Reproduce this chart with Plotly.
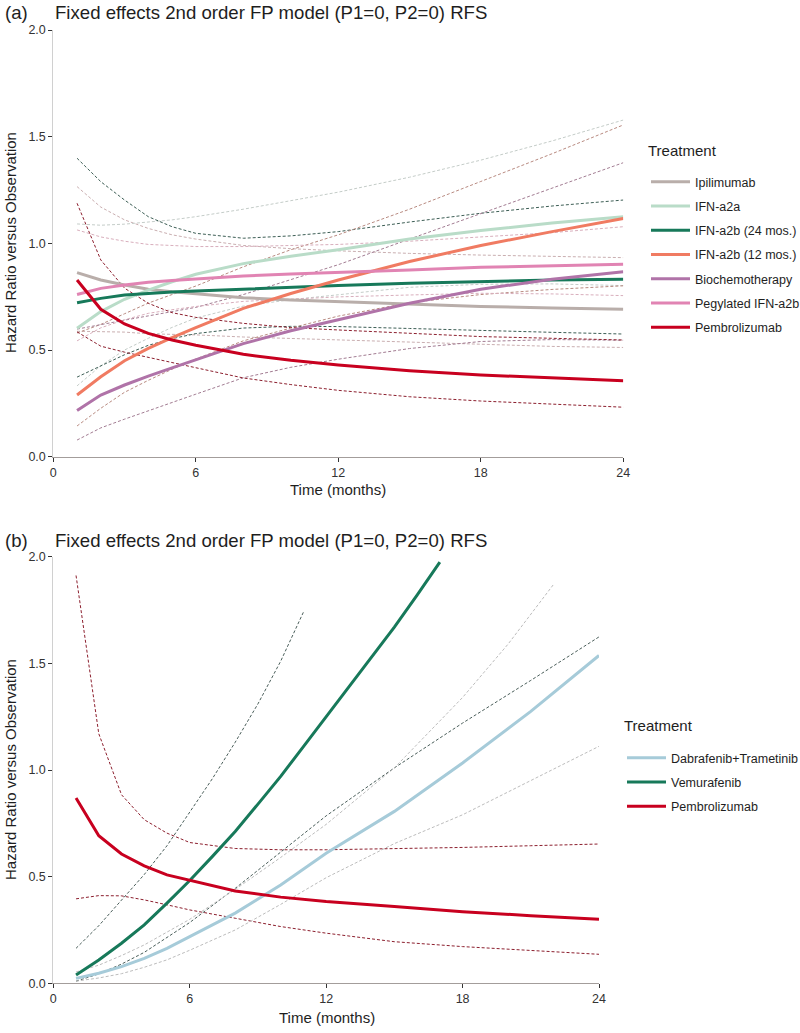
import plotly.graph_objects as go

# ---------------- Panel (a) data ----------------
TA = [1, 2, 3, 4, 5, 6, 8, 10, 12, 15, 18, 21, 24]

ipi_est = [0.863, 0.828, 0.805, 0.785, 0.773, 0.763, 0.745, 0.735, 0.727, 0.714, 0.704, 0.697, 0.691]
ipi_up = [1.266, 1.17, 1.11, 1.07, 1.04, 1.02, 0.99, 0.975, 0.965, 0.953, 0.945, 0.939, 0.933]
ipi_lo = [0.588, 0.586, 0.584, 0.576, 0.575, 0.571, 0.561, 0.554, 0.548, 0.535, 0.526, 0.517, 0.512]

a2a_est = [0.602, 0.68, 0.738, 0.781, 0.82, 0.855, 0.905, 0.94, 0.97, 1.02, 1.06, 1.095, 1.125]
a2a_up = [1.091, 1.085, 1.09, 1.10, 1.11, 1.125, 1.16, 1.20, 1.24, 1.31, 1.39, 1.48, 1.578]
a2a_lo = [0.332, 0.426, 0.50, 0.555, 0.606, 0.650, 0.706, 0.736, 0.759, 0.794, 0.808, 0.81, 0.802]

a2b24_est = [0.722, 0.742, 0.758, 0.766, 0.772, 0.777, 0.786, 0.795, 0.802, 0.813, 0.821, 0.828, 0.832]
a2b24_up = [1.399, 1.289, 1.203, 1.125, 1.078, 1.047, 1.024, 1.035, 1.055, 1.10, 1.141, 1.175, 1.203]
a2b24_lo = [0.373, 0.427, 0.478, 0.522, 0.553, 0.577, 0.603, 0.611, 0.61, 0.601, 0.591, 0.583, 0.575]

a2b12_est = [0.289, 0.375, 0.45, 0.508, 0.558, 0.605, 0.695, 0.765, 0.828, 0.915, 0.99, 1.055, 1.116]
a2b12_up = [0.58, 0.62, 0.67, 0.72, 0.76, 0.80, 0.89, 0.97, 1.04, 1.16, 1.29, 1.42, 1.555]
a2b12_lo = [0.144, 0.227, 0.302, 0.358, 0.41, 0.458, 0.543, 0.603, 0.659, 0.722, 0.76, 0.784, 0.801]

bio_est = [0.216, 0.289, 0.336, 0.378, 0.416, 0.453, 0.530, 0.59, 0.641, 0.719, 0.785, 0.832, 0.867]
bio_up = [0.598, 0.62, 0.64, 0.66, 0.68, 0.70, 0.76, 0.83, 0.90, 1.02, 1.14, 1.26, 1.378]
bio_lo = [0.078, 0.135, 0.176, 0.216, 0.254, 0.293, 0.37, 0.419, 0.457, 0.507, 0.54, 0.549, 0.546]

peg_est = [0.76, 0.789, 0.805, 0.818, 0.826, 0.833, 0.847, 0.856, 0.863, 0.875, 0.888, 0.895, 0.902]
peg_up = [1.063, 1.03, 1.01, 0.995, 0.99, 0.985, 0.985, 0.99, 0.995, 1.01, 1.03, 1.05, 1.078]
peg_lo = [0.543, 0.604, 0.642, 0.672, 0.689, 0.704, 0.728, 0.74, 0.749, 0.758, 0.766, 0.763, 0.755]

pem_a_est = [0.828, 0.691, 0.622, 0.578, 0.547, 0.522, 0.48, 0.452, 0.430, 0.403, 0.383, 0.370, 0.356]
pem_a_up = [1.188, 0.922, 0.79, 0.719, 0.675, 0.653, 0.625, 0.605, 0.594, 0.578, 0.563, 0.555, 0.547]
pem_a_lo = [0.585, 0.518, 0.49, 0.465, 0.443, 0.417, 0.369, 0.338, 0.311, 0.281, 0.261, 0.247, 0.232]

# ---------------- Panel (b) data ----------------
TB = [1, 2, 3, 4, 5, 6, 8, 10, 12, 15, 18, 21, 24]
pem_b_est = [0.869, 0.692, 0.606, 0.551, 0.508, 0.482, 0.433, 0.404, 0.383, 0.36, 0.336, 0.317, 0.30]
pem_b_up = [1.912, 1.17, 0.884, 0.767, 0.704, 0.66, 0.632, 0.626, 0.626, 0.63, 0.637, 0.645, 0.653]
pem_b_lo = [0.396, 0.411, 0.41, 0.391, 0.368, 0.344, 0.305, 0.266, 0.235, 0.195, 0.172, 0.153, 0.136]

TV = [1, 2, 3, 4, 5, 6, 7, 8, 9, 10, 11, 12, 13, 14, 15, 16, 17]
vem_est = [0.039, 0.109, 0.188, 0.274, 0.376, 0.482, 0.595, 0.712, 0.84, 0.97, 1.11, 1.25, 1.39, 1.53, 1.67, 1.82, 1.975]
TVU = [1, 2, 3, 4, 5, 6, 7, 8, 9, 10, 11]
vem_up = [0.164, 0.27, 0.39, 0.51, 0.645, 0.80, 0.96, 1.13, 1.31, 1.51, 1.74]
vem_lo = [0.01, 0.044, 0.09, 0.145, 0.215, 0.285, 0.445, 0.615, 0.785, 1.01, 1.22, 1.42, 1.624]

dab_est = [0.023, 0.047, 0.078, 0.117, 0.164, 0.219, 0.329, 0.461, 0.61, 0.806, 1.033, 1.275, 1.537]
TDU = [1, 2, 3, 4, 5, 6, 8, 10, 12, 15, 18, 20, 22]
dab_up = [0.053, 0.085, 0.13, 0.18, 0.24, 0.30, 0.44, 0.59, 0.745, 1.01, 1.34, 1.59, 1.87]
dab_lo = [0.01, 0.025, 0.045, 0.075, 0.11, 0.155, 0.25, 0.37, 0.495, 0.655, 0.79, 0.95, 1.111]

X_TICKS = [0, 6, 12, 18, 24]
Y_TICKS = [0.0, 0.5, 1.0, 1.5, 2.0]

names_a = ["Ipilimumab", "IFN-a2a", "IFN-a2b (24 mos.)", "IFN-a2b (12 mos.)",
           "Biochemotherapy", "Pegylated IFN-a2b", "Pembrolizumab"]
names_b = ["Dabrafenib+Trametinib", "Vemurafenib", "Pembrolizumab"]

FONT = "Arial, Liberation Sans, sans-serif"
TXT = "#1e1e1e"
W, H = 800, 1033

fig = go.Figure()


def line(x, y, color, width, dash, xa, ya, name=None, legend="legend", show=False, group=None):
    fig.add_trace(go.Scatter(
        x=x, y=y, mode="lines", name=name, showlegend=show,
        line=dict(color=color, width=width, dash=dash),
        xaxis=xa, yaxis=ya, legend=legend, legendgroup=group, hoverinfo="skip"))


DASH = "3px,2px"
# panel a: confidence limits (dashed)
ci_a = [
    (ipi_up, ipi_lo, "#c9aeb0"),
    (a2a_up, a2a_lo, "#c4ccc8"),
    (a2b24_up, a2b24_lo, "#3d5e55"),
    (a2b12_up, a2b12_lo, "#b88a80"),
    (bio_up, bio_lo, "#a27c92"),
    (peg_up, peg_lo, "#d8aebc"),
    (pem_a_up, pem_a_lo, "#8c1f2e"),
]
for up, lo, c in ci_a:
    line(TA, up, c, 1, DASH, "x", "y")
    line(TA, lo, c, 1, DASH, "x", "y")

est_a = [
    (ipi_est, "#b9aeaa", 3),
    (a2a_est, "#b9dcc8", 3),
    (a2b24_est, "#17795a", 3),
    (a2b12_est, "#f07b62", 3),
    (bio_est, "#b073a8", 3),
    (peg_est, "#e184b3", 3),
    (pem_a_est, "#c8001f", 3),
]
for i, (est, c, w) in enumerate(est_a):
    line(TA, est, c, w, "solid", "x", "y", name=names_a[i], legend="legend", show=True, group="a%d" % i)

# panel b
line(TB, pem_b_up, "#8c1f2e", 1, DASH, "x2", "y2")
line(TB, pem_b_lo, "#8c1f2e", 1, DASH, "x2", "y2")
line(TVU, vem_up, "#4a5e5a", 1, DASH, "x2", "y2")
line(TB, vem_lo, "#4a5e5a", 1, DASH, "x2", "y2")
line(TDU, dab_up, "#bcbcbc", 1, DASH, "x2", "y2")
line(TB, dab_lo, "#bcbcbc", 1, DASH, "x2", "y2")

line(TB, dab_est, "#a6cbd9", 3, "solid", "x2", "y2", name=names_b[0], legend="legend2", show=True, group="b0")
line(TV, vem_est, "#17795a", 3, "solid", "x2", "y2", name=names_b[1], legend="legend2", show=True, group="b1")
line(TB, pem_b_est, "#c8001f", 3, "solid", "x2", "y2", name=names_b[2], legend="legend2", show=True, group="b2")


def px_x(p):
    return p / W


def px_y(p):
    return 1 - p / H


axis_common = dict(showgrid=False, zeroline=False, ticks="outside", ticklen=4,
                   tickcolor="#333333", tickwidth=1, automargin=False,
                   tickfont=dict(family=FONT, size=12.5, color="#333333"),
                   showline=True)

legend_common = dict(xanchor="left", yanchor="top",
                     font=dict(family=FONT, size=12.5, color=TXT),
                     traceorder="grouped", tracegroupgap=5, itemwidth=39,
                     bgcolor="rgba(0,0,0,0)", borderwidth=0)

fig.update_layout(
    template="none",
    width=W, height=H, margin=dict(l=0, r=0, t=0, b=0, autoexpand=False),
    paper_bgcolor="white", plot_bgcolor="white",
    font=dict(family=FONT, color=TXT),
    xaxis=dict(domain=[px_x(53.3), px_x(623.3)], range=[0, 24], tickvals=X_TICKS,
               linecolor="#a39d9b", linewidth=1.3, anchor="y", **axis_common),
    yaxis=dict(domain=[px_y(456.7), px_y(30)], range=[0, 2], tickvals=Y_TICKS, tickformat=".1f",
               linecolor="#d0d0d0", linewidth=1, anchor="x", **axis_common),
    xaxis2=dict(domain=[px_x(53.3), px_x(599)], range=[0, 24], tickvals=X_TICKS,
                linecolor="#a39d9b", linewidth=1.3, anchor="y2", **axis_common),
    yaxis2=dict(domain=[px_y(983.3), px_y(556.7)], range=[0, 2], tickvals=Y_TICKS, tickformat=".1f",
                linecolor="#d0d0d0", linewidth=1, anchor="x2", **axis_common),
    legend=dict(x=px_x(646), y=px_y(167), **legend_common),
    legend2=dict(x=px_x(622), y=px_y(743), **legend_common),
)

TITLE = "Fixed effects 2nd order FP model (P1=0, P2=0) RFS"
ann = [
    dict(text="(a)", x=3, y=13, xanchor="left", size=18.6),
    dict(text=TITLE, x=53, y=13, xanchor="left", size=18.6),
    dict(text="(b)", x=3, y=540, xanchor="left", size=18.6),
    dict(text=TITLE, x=53, y=540, xanchor="left", size=18.6),
    dict(text="Time (months)", x=338, y=489, xanchor="center", size=15),
    dict(text="Time (months)", x=327, y=1017, xanchor="center", size=15),
    dict(text="Treatment", x=646, y=150, xanchor="left", size=15),
    dict(text="Treatment", x=622, y=725, xanchor="left", size=15),
]
for a in ann:
    fig.add_annotation(text=a["text"], x=px_x(a["x"]), y=px_y(a["y"]), xref="paper", yref="paper",
                       xanchor=a["xanchor"], yanchor="middle", showarrow=False,
                       font=dict(family=FONT, size=a["size"], color=TXT))
for yc in (243, 770):
    fig.add_annotation(text="Hazard Ratio versus Observation", x=px_x(10), y=px_y(yc),
                       xref="paper", yref="paper", xanchor="center", yanchor="middle",
                       textangle=-90, showarrow=False,
                       font=dict(family=FONT, size=15, color=TXT))

# the page's default body margin would shift the figure; remove it
fig.write_html("out.html", config={"displayModeBar": False},
               post_script="document.body.style.margin='0';")
